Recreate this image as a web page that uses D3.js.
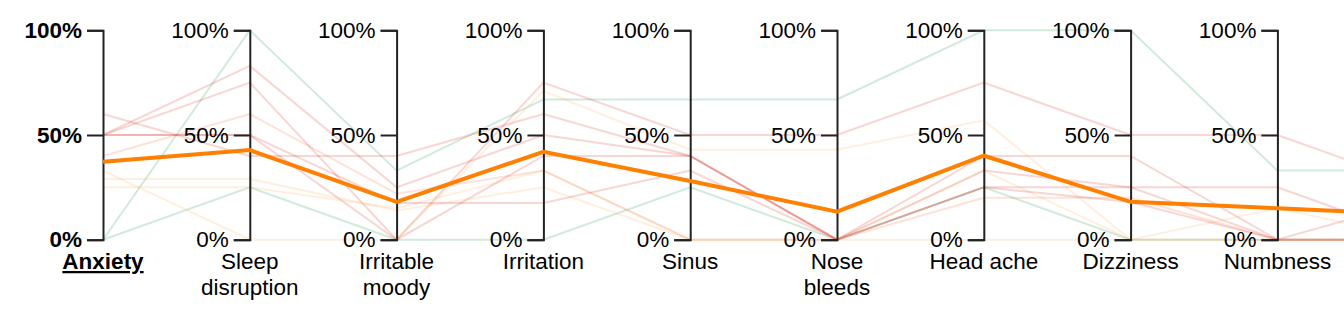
<!DOCTYPE html>
<html>
<head>
<meta charset="utf-8">
<script src="https://cdn.jsdelivr.net/npm/d3@7"></script>
<style>
  body { margin: 0; overflow: hidden; background: #fff; }
  svg { display: block; font-family: "Liberation Sans", Arial, Helvetica, sans-serif; }
  .axis text { font-size: 22.5px; fill: #000; }
  .axis path, .axis line { stroke: #222; stroke-width: 2; }
  .title { font-size: 22.5px; fill: #000; text-anchor: middle; }
</style>
</head>
<body>
<div id="chart"></div>
<script>

// dimensions (the last one sits outside the visible window, only the lines reach it)
var dims = ["Anxiety", "Sleep disruption", "Irritable moody", "Irritation", "Sinus",
            "Nose bleeds", "Head ache", "Dizziness", "Numbness", "Fatigue"];
var visibleDims = dims.slice(0, 9);
var activeDim = "Anxiety";
var tickValues = [0, 0.5, 1];

// faint lines, one value per dimension, plus a colour group
var lineGroups = ["good", "good", "bad", "bad", "bad", "bad", "mid", "fair", "fair", "fair", "bad"];
var lineValues = [
  [0,    1,    0.33, 0.67, 0.67, 0.67, 1,    1,    0.33, 0.33],
  [0,    0.25, 0,    0,    0.25, 0,    0.25, 0,    0,    0],
  [0.60, 0.40, 0.40, 0.60, 0.40, 0,    0.40, 0.40, 0,    0.20],
  [0.50, 0.83, 0.25, 0.50, 0.40, 0,    0.33, 0.25, 0.25, 0],
  [0.50, 0.75, 0,    0.75, 0.50, 0.50, 0.75, 0.50, 0.50, 0.25],
  [0.50, 0.50, 0,    0.40, 0.40, 0,    0.25, 0.25, 0,    0],
  [0.40, 0.60, 0.22, 0.33, 0,    0,    0.20, 0.20, 0,    0],
  [0.33, 0,    0,    0.71, 0.43, 0.43, 0.57, 0,    0.15, 0],
  [0.29, 0.29, 0.14, 0.25, 0,    0,    0,    0,    0,    0],
  [0.25, 0.25, 0.15, 0.33, 0,    0,    0.33, 0,    0,    0],
  [0.50, 0.50, 0.175, 0.175, 0.33, 0,   0.25, 0.18, 0,    0]
];
// the highlighted average line
var meanValues = [0.372, 0.428, 0.181, 0.420, 0.280, 0.134, 0.401, 0.181, 0.150, 0.12];

var groupColors = { good: "#1a9850", fair: "#fdae61", mid: "#f46d43", bad: "#d73027" };

var width = 1344, height = 318;

var svg = d3.select("#chart")
    .append("svg")
    .attr("width", width)
    .attr("height", height);

var x = d3.scalePoint()
    .domain(dims)
    .range([103, 103 + 146.8 * (dims.length - 1)]);

var y = d3.scaleLinear()
    .domain([0, 1])
    .range([239.7, 30.3]);

var line = d3.line()
    .x(function(d, i) { return x(dims[i]); })
    .y(function(d) { return y(d); });

// faint background lines
svg.append("g")
    .attr("id", "lines")
    .selectAll("path")
    .data(lineValues)
    .enter()
    .append("path")
    .attr("d", line)
    .attr("fill", "none")
    .attr("stroke", function(d, i) { return groupColors[lineGroups[i]]; })
    .attr("stroke-opacity", 0.2)
    .attr("stroke-width", 2);

// axes
var axes = svg.selectAll(".axis")
    .data(visibleDims)
    .enter()
    .append("g")
    .attr("class", "axis")
    .attr("transform", function(d) { return "translate(" + x(d) + ",0)"; })
    .each(function(d) {
        d3.select(this).call(
            d3.axisLeft(y)
              .tickValues(tickValues)
              .tickFormat(d3.format(".0%"))
              .tickSize(16)
              .tickPadding(5));
    });

axes.attr("font-size", null).attr("font-family", null);

axes.filter(function(d) { return d === activeDim; })
    .selectAll("text")
    .style("font-weight", "bold");

// axis titles, split over two lines where needed
axes.append("text")
    .attr("class", "title")
    .attr("y", 269)
    .style("font-weight", function(d) { return d === activeDim ? "bold" : null; })
    .style("text-decoration", function(d) { return d === activeDim ? "underline" : null; })
    .each(function(d) {
        var words = d.split(" ");
        var lines = (words.length > 1 && d !== "Head ache") ? [words[0], words.slice(1).join(" ")] : [d];
        var t = d3.select(this);
        lines.forEach(function(w, i) {
            t.append("tspan")
             .attr("x", 0)
             .attr("dy", i === 0 ? 0 : 26)
             .text(w);
        });
    });

// average line on top
svg.append("path")
    .datum(meanValues)
    .attr("d", line)
    .attr("fill", "none")
    .attr("stroke", "#ff7f00")
    .attr("stroke-width", 4);

</script>
</body>
</html>
